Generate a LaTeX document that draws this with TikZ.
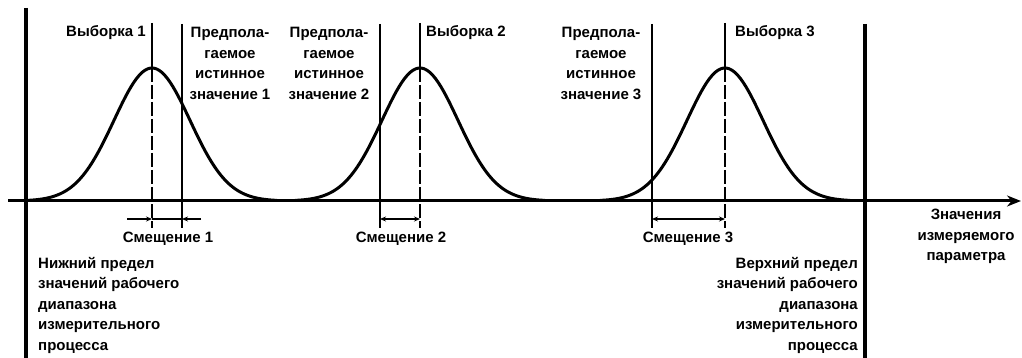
\documentclass[tikz,border=0pt]{standalone}
\usepackage{fontspec}
\setmainfont{Liberation Sans}
\usetikzlibrary{arrows.meta}
\tikzset{biasplot/.style={x=1pt,y=-1pt,font=\fontsize{15}{20.5}\selectfont\bfseries},
  limitln/.style={line width=3.4pt},
  axisln/.style={line width=3pt,-{Stealth[length=14pt,width=11pt]}},
  sampleln/.style={line width=1.6pt},
  truevln/.style={line width=2.4pt},
  gauss/.style={line width=3pt,line join=round},
  biasln/.style={line width=1.4pt},
  tip/.style={-{Stealth[length=6pt,width=5pt]}},
  tips/.style={{Stealth[length=6pt,width=5pt]}-{Stealth[length=6pt,width=5pt]}},
  lbl/.style={inner sep=0pt,align=center}}

\begin{document}
\begin{tikzpicture}[biasplot]
    \def\ax{201}\def\pk{133}\def\sg{38} % axis row, peak height, spread (px)
    \useasboundingbox (0,0) rectangle (1022,358);
    \coordinate (lo) at (26,8);   \coordinate (lob) at (26,358);
    \coordinate (hi) at (865,24); \coordinate (hib) at (865,358);
    \coordinate (ax0) at (8,\ax); \coordinate (ax1) at (1021,\ax);
    \coordinate (by) at (0,219);
    \draw[limitln] (lo) -- (lob);
    \draw[limitln] (hi) -- (hib);
    \draw[axisln] (ax0) -- (ax1);
    \foreach \c/\t/\i in {152/182/1,420/380/2,725/652/3}{
      \coordinate (smp\i) at (\c,23); \coordinate (pk\i) at (\c,68);
      \coordinate (smpb\i) at (\c,228);
      \coordinate (tv\i) at (\t,24);  \coordinate (tvb\i) at (\t,228);
      \draw[sampleln] (smp\i) -- (pk\i);
      \draw[sampleln,dash pattern=on 14pt off 3pt] (pk\i) -- (smpb\i);
      \draw[truevln] (tv\i) -- (tvb\i);
      \draw[gauss] plot[domain=-125:125,samples=90] ({\c+\x},{\ax-\pk*exp(-0.5*(\x/\sg)^2)});
    }
    % bias 1: arrows from outside
    \coordinate (b1l) at (127,219); \coordinate (b1r) at (201,219);
    \draw[biasln,tip] (b1l) -- (smpb1 |- by);
    \draw[biasln,tip] (b1r) -- (tvb1 |- by);
    \draw[biasln] (smpb1 |- by) -- (tvb1 |- by);
    \draw[biasln,tips] (tvb2 |- by) -- (smpb2 |- by);
    \draw[biasln,tips] (tvb3 |- by) -- (smpb3 |- by);
    % labels
    \node[lbl,anchor=east] (smplbl1) at (146,33) {Выборка 1};
    \node[lbl,anchor=west] (smplbl2) at (426,33) {Выборка 2};
    \node[lbl,anchor=west] (smplbl3) at (735,33) {Выборка 3};
    \node[lbl,anchor=north] (tvlbl1) at (230,27) {Предпола-\\гаемое\\истинное\\значение 1};
    \node[lbl,anchor=north] (tvlbl2) at (329,27) {Предпола-\\гаемое\\истинное\\значение 2};
    \node[lbl,anchor=north] (tvlbl3) at (601,27) {Предпола-\\гаемое\\истинное\\значение 3};
    \node[lbl,anchor=north] (bslbl1) at (168,232) {Смещение 1};
    \node[lbl,anchor=north] (bslbl2) at (401,232) {Смещение 2};
    \node[lbl,anchor=north] (bslbl3) at (688,232) {Смещение 3};
    \node[lbl,align=left,anchor=north west] (lolbl) at (38,257)
      {Нижний предел\\значений рабочего\\диапазона\\измерительного\\процесса};
    \node[lbl,align=right,anchor=north east] (hilbl) at (858,257)
      {Верхний предел\\значений рабочего\\диапазона\\измерительного\\процесса};
    \node[lbl,anchor=north] (axlbl) at (966,209) {Значения\\измеряемого\\параметра};
\end{tikzpicture}
\end{document}
